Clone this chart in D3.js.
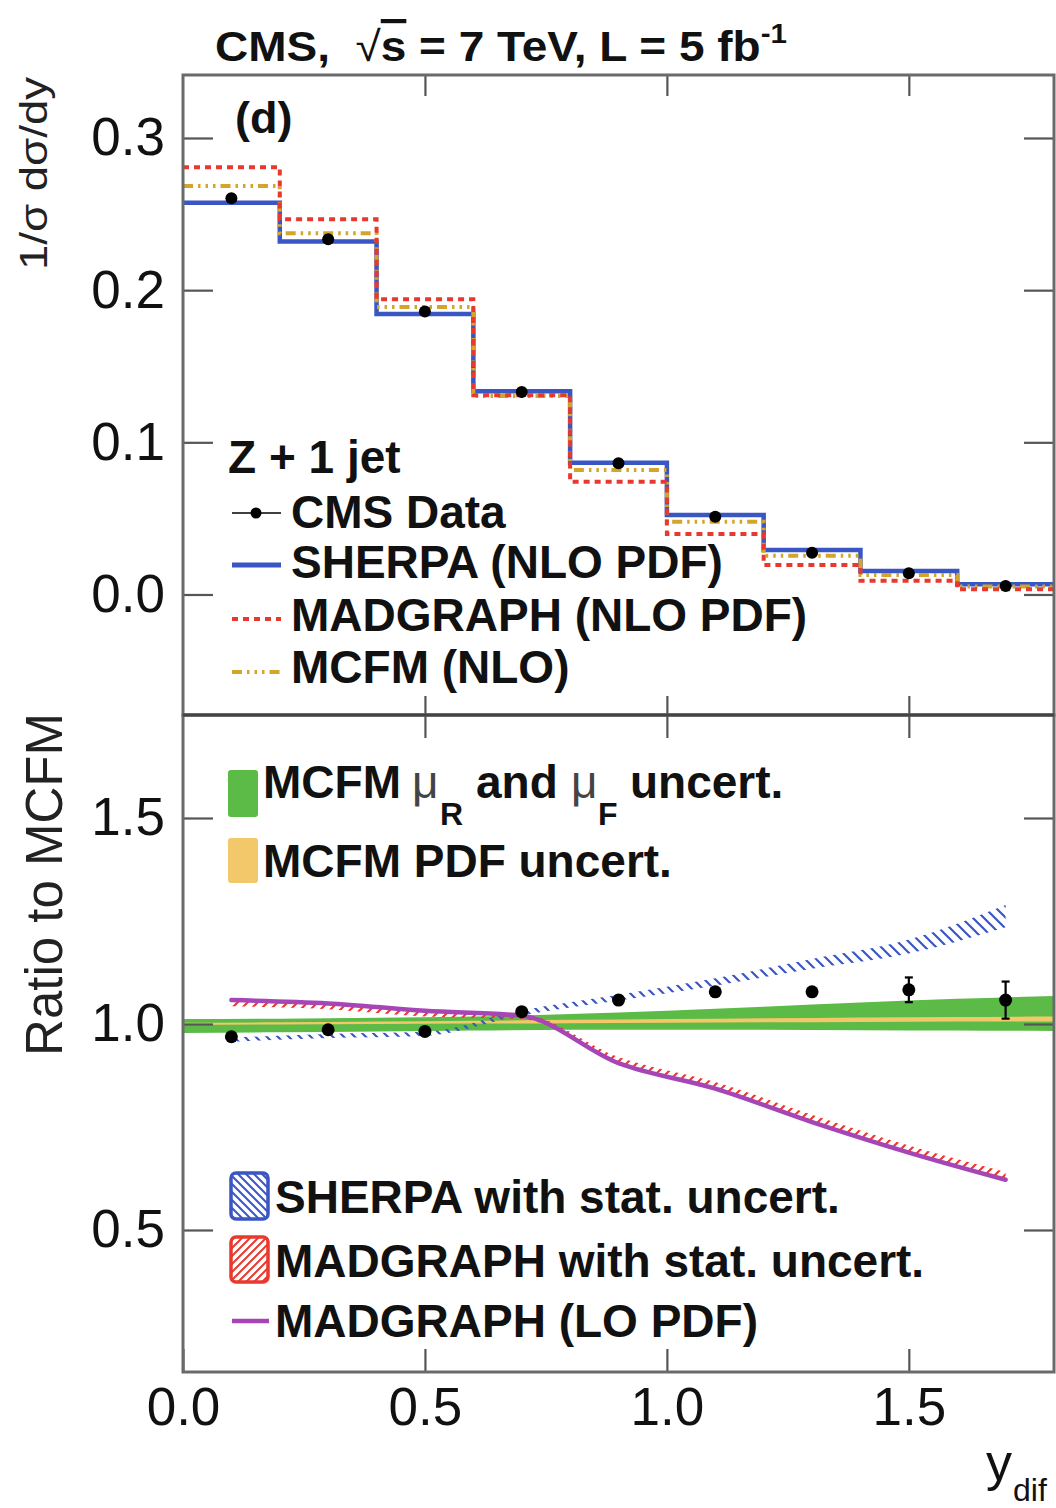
<!DOCTYPE html>
<html>
<head>
<meta charset="utf-8">
<script src="https://cdn.jsdelivr.net/npm/d3@7"></script>
<style>
  body { margin: 0; background: #fff; }
  text { font-family: "Liberation Sans", Arial, Helvetica, sans-serif; }
</style>
</head>
<body>
<svg id="chart" width="1056" height="1508"></svg>
<script>
// ---- binning in y_dif ----
const binEdges   = [0.0, 0.2, 0.4, 0.6, 0.8, 1.0, 1.2, 1.4, 1.6, 1.8];
const binCenters = [0.1, 0.3, 0.5, 0.7, 0.9, 1.1, 1.3, 1.5, 1.7];

// ---- upper panel: normalised cross sections 1/σ dσ/dy ----
const dataXsec     = [0.2604, 0.2334, 0.1859, 0.1330, 0.0862, 0.0511, 0.0275, 0.0139, 0.0056];
const sherpaXsec   = [0.2575, 0.2319, 0.1843, 0.1335, 0.0866, 0.0522, 0.0292, 0.0154, 0.0068];
const madgraphXsec = [0.2807, 0.2466, 0.1940, 0.1310, 0.0741, 0.0398, 0.0194, 0.0090, 0.0034];
const mcfmXsec     = [0.2685, 0.2374, 0.1890, 0.1305, 0.0818, 0.0478, 0.0255, 0.0128, 0.0053];

// ---- lower panel: ratios to MCFM ----
const ratioData        = [0.969, 0.986, 0.982, 1.030, 1.058, 1.078, 1.078, 1.083, 1.058];
const ratioDataErr     = [0.004, 0.004, 0.004, 0.005, 0.006, 0.008, 0.013, 0.030, 0.045];
const ratioSherpa      = [0.962, 0.971, 0.976, 1.027, 1.064, 1.102, 1.146, 1.188, 1.262];
const ratioSherpaErr   = [0.005, 0.005, 0.005, 0.006, 0.007, 0.009, 0.012, 0.017, 0.027];
const ratioMadgraph    = [1.049, 1.042, 1.024, 1.018, 0.913, 0.852, 0.772, 0.697, 0.632];
const ratioMadgraphErr = [0.006, 0.006, 0.006, 0.006, 0.007, 0.007, 0.008, 0.008, 0.009];
const ratioMadgraphLO  = [1.058, 1.050, 1.032, 1.020, 0.905, 0.843, 0.762, 0.688, 0.622];

// MCFM theory uncertainty envelopes, given at the bin edges
const scaleLow  = [0.978, 0.980, 0.982, 0.984, 0.986, 0.986, 0.986, 0.985, 0.984, 0.983];
const scaleHigh = [1.012, 1.013, 1.015, 1.018, 1.024, 1.032, 1.042, 1.052, 1.061, 1.068];
const pdfLow    = [0.998, 0.999, 1.000, 1.001, 1.002, 1.003, 1.004, 1.005, 1.006, 1.006];
const pdfHigh   = [1.003, 1.004, 1.006, 1.008, 1.010, 1.012, 1.014, 1.016, 1.017, 1.018];

// ---- axis ticks ----
const xTicks      = [0.0, 0.5, 1.0, 1.5];
const yTopTicks   = [0.0, 0.1, 0.2, 0.3];
const yRatioTicks = [0.5, 1.0, 1.5];

// ---- colours ----
const C = {
  sherpa: "#3a55c4", madgraph: "#e8392f", mcfm: "#d4a52a", lo: "#a646b6",
  scale: "#5cba47", pdf: "#f3c86a", frame: "#6a6a6a"
};

const svg = d3.select("#chart");
const X0 = 183, X1 = 1054, TOP = 75, MID = 715, BOT = 1372;

const x    = d3.scaleLinear().domain([0, 1.8]).range([X0, X1]);
const yTop = d3.scaleLinear().domain([-0.0792, 0.3414]).range([MID, TOP]);
const yBot = d3.scaleLinear().domain([0.1553, 1.75]).range([BOT, MID]);

svg.append("rect").attr("width", 1056).attr("height", 1508).attr("fill", "#fff");

// ---- defs: clips and hatch patterns ----
const defs = svg.append("defs");
defs.append("clipPath").attr("id", "clipTop").append("rect")
  .attr("x", X0).attr("y", TOP).attr("width", X1 - X0).attr("height", MID - TOP);
defs.append("clipPath").attr("id", "clipBot").append("rect")
  .attr("x", X0).attr("y", MID).attr("width", X1 - X0).attr("height", BOT - MID);

function hatch(id, color, back, g, sw) {
  const p = defs.append("pattern").attr("id", id)
    .attr("patternUnits", "userSpaceOnUse").attr("width", g).attr("height", g);
  const d = back
    ? `M-2,-2 L${g + 2},${g + 2} M-2,${g - 2} L2,${g + 2} M${g - 2},-2 L${g + 2},2`
    : `M-2,${g + 2} L${g + 2},-2 M-2,2 L2,-2 M${g - 2},${g + 2} L${g + 2},${g - 2}`;
  p.append("path").attr("d", d).attr("stroke", color).attr("stroke-width", sw).attr("fill", "none");
}
hatch("hSherpa", C.sherpa, true, 11, 2.2);
hatch("hMadgraph", C.madgraph, false, 10, 2.2);
hatch("hSherpaKey", C.sherpa, true, 8, 2);
hatch("hMadgraphKey", C.madgraph, false, 8, 2);

// ================= upper panel =================
const gTop = svg.append("g").attr("clip-path", "url(#clipTop)");

const stepLine = d3.line().curve(d3.curveStepAfter).x(d => x(d[0])).y(d => yTop(d[1]));
const stepPts = vals => binEdges.map((e, i) => [e, vals[Math.min(i, vals.length - 1)]]);

gTop.append("path").attr("d", stepLine(stepPts(sherpaXsec)))
  .attr("fill", "none").attr("stroke", C.sherpa).attr("stroke-width", 4.5);
gTop.append("path").attr("d", stepLine(stepPts(mcfmXsec)))
  .attr("fill", "none").attr("stroke", C.mcfm).attr("stroke-width", 4)
  .attr("stroke-dasharray", "10,5,2.5,5,2.5,5,2.5,5");
gTop.append("path").attr("d", stepLine(stepPts(madgraphXsec)))
  .attr("fill", "none").attr("stroke", C.madgraph).attr("stroke-width", 4)
  .attr("stroke-dasharray", "6,5");

gTop.selectAll("circle.data").data(binCenters).join("circle").attr("class", "data")
  .attr("cx", d => x(d)).attr("cy", (d, i) => yTop(dataXsec[i])).attr("r", 6).attr("fill", "#000");

// ================= lower panel =================
const gBot = svg.append("g").attr("clip-path", "url(#clipBot)");

const bandArea = (lo, hi, xs) => d3.area().curve(d3.curveMonotoneX)
  .x((d, i) => x(xs[i])).y0((d, i) => yBot(lo[i])).y1((d, i) => yBot(hi[i]))(xs);

gBot.append("path").attr("d", bandArea(scaleLow, scaleHigh, binEdges)).attr("fill", C.scale);
gBot.append("path").attr("d", bandArea(pdfLow, pdfHigh, binEdges)).attr("fill", C.pdf);

const lo = (c, e) => c.map((v, i) => v - e[i]);
const hi = (c, e) => c.map((v, i) => v + e[i]);

gBot.append("path").attr("d", bandArea(lo(ratioSherpa, ratioSherpaErr), hi(ratioSherpa, ratioSherpaErr), binCenters))
  .attr("fill", "url(#hSherpa)");
gBot.append("path").attr("d", bandArea(lo(ratioMadgraph, ratioMadgraphErr), hi(ratioMadgraph, ratioMadgraphErr), binCenters))
  .attr("fill", "url(#hMadgraph)");

const ratioLine = d3.line().curve(d3.curveMonotoneX).x((d, i) => x(binCenters[i])).y(d => yBot(d));
gBot.append("path").attr("d", ratioLine(ratioMadgraphLO))
  .attr("fill", "none").attr("stroke", C.lo).attr("stroke-width", 4.5).attr("stroke-linecap", "round");

// data points with error bars
const eb = gBot.append("g").attr("stroke", "#000").attr("stroke-width", 2.2);
binCenters.forEach((c, i) => {
  const y1 = yBot(ratioData[i] - ratioDataErr[i]), y2 = yBot(ratioData[i] + ratioDataErr[i]);
  eb.append("line").attr("x1", x(c)).attr("x2", x(c)).attr("y1", y1).attr("y2", y2);
  if (y1 - y2 > 14) {
    eb.append("line").attr("x1", x(c) - 4).attr("x2", x(c) + 4).attr("y1", y1).attr("y2", y1);
    eb.append("line").attr("x1", x(c) - 4).attr("x2", x(c) + 4).attr("y1", y2).attr("y2", y2);
  }
});
gBot.selectAll("circle.data").data(binCenters).join("circle").attr("class", "data")
  .attr("cx", d => x(d)).attr("cy", (d, i) => yBot(ratioData[i])).attr("r", 6.5).attr("fill", "#000");

// ================= frames and axes =================
const fmt = d3.format(".1f");
function styleAxis(g, labels) {
  g.select(".domain").remove();
  g.selectAll(".tick line").attr("stroke", "#555").attr("stroke-width", 2.2);
  g.selectAll(".tick text").attr("font-size", 53).attr("fill", "#111")
    .style("font-family", "'Liberation Sans', Arial, sans-serif");
  if (!labels) g.selectAll(".tick text").remove();
}
// upper panel
svg.append("g").attr("transform", `translate(${X0},0)`)
  .call(d3.axisLeft(yTop).tickValues(yTopTicks).tickSizeInner(-30).tickSizeOuter(0).tickPadding(18).tickFormat(fmt))
  .call(g => styleAxis(g, true));
svg.append("g").attr("transform", `translate(${X1},0)`)
  .call(d3.axisRight(yTop).tickValues(yTopTicks).tickSizeInner(-30).tickSizeOuter(0))
  .call(g => styleAxis(g, false));
svg.append("g").attr("transform", `translate(0,${TOP})`)
  .call(d3.axisTop(x).tickValues(xTicks.slice(1)).tickSizeInner(-21).tickSizeOuter(0))
  .call(g => styleAxis(g, false));
svg.append("g").attr("transform", `translate(0,${MID})`)
  .call(d3.axisBottom(x).tickValues(xTicks.slice(1)).tickSizeInner(-19).tickSizeOuter(0))
  .call(g => styleAxis(g, false));
// lower panel
svg.append("g").attr("transform", `translate(${X0},0)`)
  .call(d3.axisLeft(yBot).tickValues(yRatioTicks).tickSizeInner(-30).tickSizeOuter(0).tickPadding(18).tickFormat(fmt))
  .call(g => styleAxis(g, true));
svg.append("g").attr("transform", `translate(${X1},0)`)
  .call(d3.axisRight(yBot).tickValues(yRatioTicks).tickSizeInner(-30).tickSizeOuter(0))
  .call(g => styleAxis(g, false));
svg.append("g").attr("transform", `translate(0,${MID})`)
  .call(d3.axisTop(x).tickValues(xTicks.slice(1)).tickSizeInner(-23).tickSizeOuter(0))
  .call(g => styleAxis(g, false));
svg.append("g").attr("transform", `translate(0,${BOT})`)
  .call(d3.axisBottom(x).tickValues(xTicks).tickSizeInner(-23).tickSizeOuter(0).tickPadding(15).tickFormat(fmt))
  .call(g => styleAxis(g, true));

// frames
svg.append("rect").attr("x", X0).attr("y", TOP).attr("width", X1 - X0).attr("height", MID - TOP)
  .attr("fill", "none").attr("stroke", C.frame).attr("stroke-width", 3);
svg.append("rect").attr("x", X0).attr("y", MID).attr("width", X1 - X0).attr("height", BOT - MID)
  .attr("fill", "none").attr("stroke", C.frame).attr("stroke-width", 3);
svg.append("line").attr("x1", X0).attr("x2", X1).attr("y1", MID).attr("y2", MID)
  .attr("stroke", "#444").attr("stroke-width", 3);

// ================= titles =================
const title = svg.append("text").attr("x", 215).attr("y", 61)
  .attr("font-size", 42).attr("font-weight", "bold").attr("fill", "#111").style("white-space", "pre")
  .attr("textLength", 572).attr("lengthAdjust", "spacingAndGlyphs");
title.append("tspan").text("CMS,  ");
title.append("tspan").attr("font-weight", "normal").text("\u221A");
title.append("tspan").style("text-decoration", "overline").text("s");
title.append("tspan").text(" = 7 TeV, L = 5 fb");
title.append("tspan").attr("font-size", 27).attr("dy", -18).text("-1");

svg.append("text").attr("x", 235).attr("y", 133).attr("font-size", 45).attr("font-weight", "bold")
  .attr("fill", "#111").text("(d)");

svg.append("text").attr("transform", "translate(47,77) rotate(-90)").attr("text-anchor", "end")
  .attr("font-size", 38).attr("fill", "#222").attr("textLength", 193).attr("lengthAdjust", "spacingAndGlyphs")
  .text("1/\u03C3 d\u03C3/dy");

svg.append("text").attr("transform", "translate(62,713) rotate(-90)").attr("text-anchor", "end")
  .attr("font-size", 51).attr("fill", "#222").text("Ratio to MCFM");

const xt = svg.append("text").attr("x", 986).attr("y", 1480).attr("font-size", 52).attr("fill", "#111");
xt.append("tspan").text("y");
xt.append("tspan").attr("font-size", 32).attr("dy", 21).attr("dx", 1).text("dif");

// ================= legends =================
const legTop = svg.append("g");
const legText = (g, xp, yp, s) => g.append("text").attr("x", xp).attr("y", yp)
  .attr("font-size", 46).attr("font-weight", "bold").attr("fill", "#111").text(s);

legText(legTop, 228, 473, "Z + 1 jet");
legTop.append("line").attr("x1", 232).attr("x2", 281).attr("y1", 513).attr("y2", 513).attr("stroke", "#000").attr("stroke-width", 1.6);
legTop.append("circle").attr("cx", 256).attr("cy", 513).attr("r", 5.5).attr("fill", "#000");
legText(legTop, 291, 528, "CMS Data");
legTop.append("line").attr("x1", 232).attr("x2", 281).attr("y1", 565).attr("y2", 565).attr("stroke", C.sherpa).attr("stroke-width", 5);
legText(legTop, 291, 578, "SHERPA (NLO PDF)");
legTop.append("line").attr("x1", 232).attr("x2", 281).attr("y1", 619).attr("y2", 619).attr("stroke", C.madgraph)
  .attr("stroke-width", 4).attr("stroke-dasharray", "6,5");
legText(legTop, 291, 631, "MADGRAPH (NLO PDF)");
legTop.append("line").attr("x1", 232).attr("x2", 281).attr("y1", 672).attr("y2", 672).attr("stroke", C.mcfm)
  .attr("stroke-width", 4).attr("stroke-dasharray", "10,5,2.5,5,2.5,5,2.5,5");
legText(legTop, 291, 683, "MCFM (NLO)");

const legBot = svg.append("g");
legBot.append("rect").attr("x", 228).attr("y", 770).attr("width", 30).attr("height", 47).attr("rx", 3).attr("fill", C.scale);
const t1 = legBot.append("text").attr("y", 798).attr("font-size", 46).attr("font-weight", "bold").attr("fill", "#111");
t1.append("tspan").attr("x", 263).text("MCFM");
t1.append("tspan").attr("x", 412).attr("font-weight", "normal").attr("fill", "#444").text("\u03BC");
t1.append("tspan").attr("x", 440).attr("y", 825).attr("font-size", 32).text("R");
t1.append("tspan").attr("x", 476).attr("y", 798).text("and");
t1.append("tspan").attr("x", 571).attr("font-weight", "normal").attr("fill", "#444").text("\u03BC");
t1.append("tspan").attr("x", 598).attr("y", 825).attr("font-size", 32).text("F");
t1.append("tspan").attr("x", 630).attr("y", 798).text("uncert.");

legBot.append("rect").attr("x", 228).attr("y", 838).attr("width", 30).attr("height", 45).attr("rx", 3).attr("fill", C.pdf);
legText(legBot, 263, 877, "MCFM PDF uncert.");

legBot.append("rect").attr("x", 231).attr("y", 1173).attr("width", 37).attr("height", 46).attr("rx", 5)
  .attr("fill", "url(#hSherpaKey)").attr("stroke", C.sherpa).attr("stroke-width", 3.5);
legText(legBot, 275, 1213, "SHERPA with stat. uncert.");
legBot.append("rect").attr("x", 231).attr("y", 1237).attr("width", 37).attr("height", 45).attr("rx", 5)
  .attr("fill", "url(#hMadgraphKey)").attr("stroke", C.madgraph).attr("stroke-width", 3.5);
legText(legBot, 275, 1277, "MADGRAPH with stat. uncert.");
legBot.append("line").attr("x1", 232).attr("x2", 269).attr("y1", 1321).attr("y2", 1321).attr("stroke", C.lo).attr("stroke-width", 4.5);
legText(legBot, 275, 1337, "MADGRAPH (LO PDF)");
</script>
</body>
</html>
